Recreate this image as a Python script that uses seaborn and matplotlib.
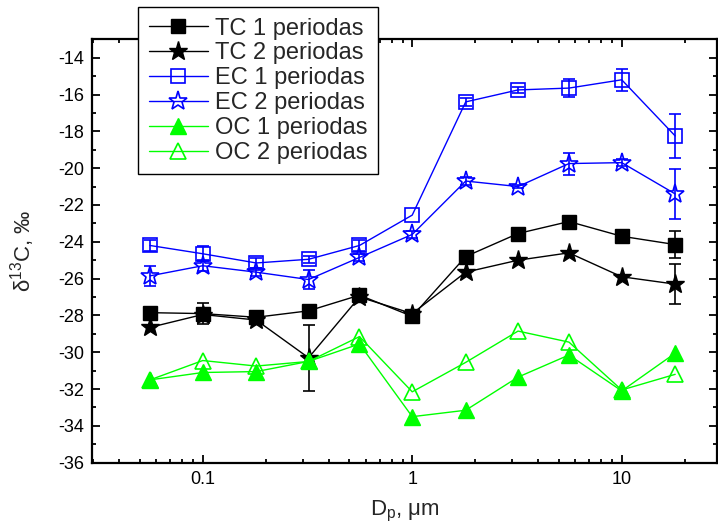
import numpy as np
import pandas as pd
import matplotlib
matplotlib.use("Agg")
import matplotlib.pyplot as plt
import seaborn as sns
from matplotlib.ticker import LogLocator, FixedLocator, FixedFormatter, MultipleLocator, NullFormatter

# Particle diameter cut points (µm)
dp = [0.056, 0.1, 0.18, 0.32, 0.56, 1.0, 1.8, 3.2, 5.6, 10.0, 18.0]

# delta13C values (per mil) for each carbon fraction and sampling period
tc1 = [-27.85, -27.9, -28.1, -27.75, -26.9, -28.05, -24.8, -23.55, -22.9, -23.7, -24.15]
tc2 = [-28.65, -27.95, -28.25, -30.3, -27.0, -27.9, -25.65, -25.0, -24.6, -25.9, -26.3]
ec1 = [-24.2, -24.65, -25.15, -24.95, -24.2, -22.55, -16.4, -15.75, -15.65, -15.2, -18.25]
ec2 = [-25.85, -25.3, -25.65, -26.05, -24.85, -23.6, -20.7, -21.0, -19.75, -19.7, -21.4]
oc1 = [-31.5, -31.1, -31.05, -30.5, -29.55, -33.5, -33.15, -31.35, -30.15, -32.1, -30.05]
oc2 = [-31.5, -30.45, -30.75, -30.5, -29.15, -32.15, -30.55, -28.85, -29.45, -32.05, -31.2]

# Standard deviations shown as error bars
tc1_err = [0.0, 0.55, 0.2, 0.0, 0.15, 0.0, 0.0, 0.0, 0.0, 0.0, 0.75]
tc2_err = [0.0, 0.0, 0.0, 1.8, 0.0, 0.0, 0.0, 0.0, 0.0, 0.0, 1.1]
ec1_err = [0.3, 0.4, 0.25, 0.2, 0.3, 0.0, 0.2, 0.15, 0.5, 0.6, 1.2]
ec2_err = [0.55, 0.3, 0.2, 0.5, 0.2, 0.2, 0.2, 0.1, 0.6, 0.2, 1.35]
oc1_err = [0.0] * 11
oc2_err = [0.0] * 11

labels = ["TC 1 periodas", "TC 2 periodas", "EC 1 periodas",
          "EC 2 periodas", "OC 1 periodas", "OC 2 periodas"]

x_ticks = [0.1, 1, 10]
x_tick_labels = ["0.1", "1", "10"]
y_ticks = list(range(-36, -13, 2))

sns.set_style("ticks")
plt.rcParams["font.family"] = ["Liberation Sans", "DejaVu Sans"]
plt.rcParams["axes.unicode_minus"] = False
plt.rcParams["mathtext.fontset"] = "custom"
plt.rcParams["mathtext.rm"] = "Liberation Sans"
plt.rcParams["mathtext.it"] = "Liberation Sans:italic"

BLACK, BLUE, GREEN = "#000000", "#0000FF", "#00FF00"
series = [
    (tc1, tc1_err, BLACK, "s", True, 10.5),
    (tc2, tc2_err, BLACK, "*", True, 14),
    (ec1, ec1_err, BLUE, "s", False, 10.5),
    (ec2, ec2_err, BLUE, "*", False, 14),
    (oc1, oc1_err, GREEN, "^", True, 11),
    (oc2, oc2_err, GREEN, "^", False, 11),
]

fig = plt.figure(figsize=(7.18, 5.30), dpi=100)
ax = fig.add_axes([92.3 / 718, 1 - 462.7 / 530, (717 - 92.3) / 718, (462.7 - 39.3) / 530])

for (vals, errs, col, mk, filled, ms), lab in zip(series, labels):
    df = pd.DataFrame({"Dp": dp, "d13C": vals})
    sns.lineplot(data=df, x="Dp", y="d13C", ax=ax, color=col, lw=1.0,
                 marker=mk, markersize=ms,
                 markerfacecolor=col if filled else "none",
                 markeredgecolor=col, markeredgewidth=1.0 if filled else 1.2,
                 label=lab)
    e = np.array(errs)
    m = e > 0
    ax.errorbar(np.array(dp)[m], np.array(vals)[m], yerr=e[m], fmt="none",
                ecolor=col, elinewidth=1.2, capsize=4.5, capthick=1.2)

ax.set_xscale("log")
ax.set_xlim(0.0297, 28.5)
ax.set_ylim(-36, -13)

ax.xaxis.set_major_locator(FixedLocator(x_ticks))
ax.xaxis.set_major_formatter(FixedFormatter(x_tick_labels))
ax.xaxis.set_minor_locator(LogLocator(base=10, subs=np.arange(2, 10)))
ax.xaxis.set_minor_formatter(NullFormatter())
ax.yaxis.set_major_locator(FixedLocator(y_ticks))
ax.yaxis.set_minor_locator(MultipleLocator(1))

ax.tick_params(which="both", direction="in", top=True, right=True,
               width=1.3, labelsize=13, colors="black")
ax.tick_params(which="major", length=6, pad=6)
ax.tick_params(which="minor", length=3)
for s in ax.spines.values():
    s.set_linewidth(1.6)
    s.set_color("black")

ax.set_xlabel(r"D$_\mathrm{p}$, μm", fontsize=16, labelpad=8)
ax.set_ylabel(r"δ$^{13}$C, ‰", fontsize=16, labelpad=15)

leg = ax.legend(loc="upper left", bbox_to_anchor=(138 / 718, 1 - 7 / 530),
                bbox_transform=fig.transFigure, frameon=True, fancybox=False,
                edgecolor="black", fontsize=17, handlelength=2.5,
                handletextpad=0.3, borderpad=0.45, labelspacing=0.12,
                borderaxespad=0)
leg.get_frame().set_linewidth(1.0)
leg.get_frame().set_alpha(1)
leg.set_zorder(10)

fig.savefig("out.png", dpi=100)
